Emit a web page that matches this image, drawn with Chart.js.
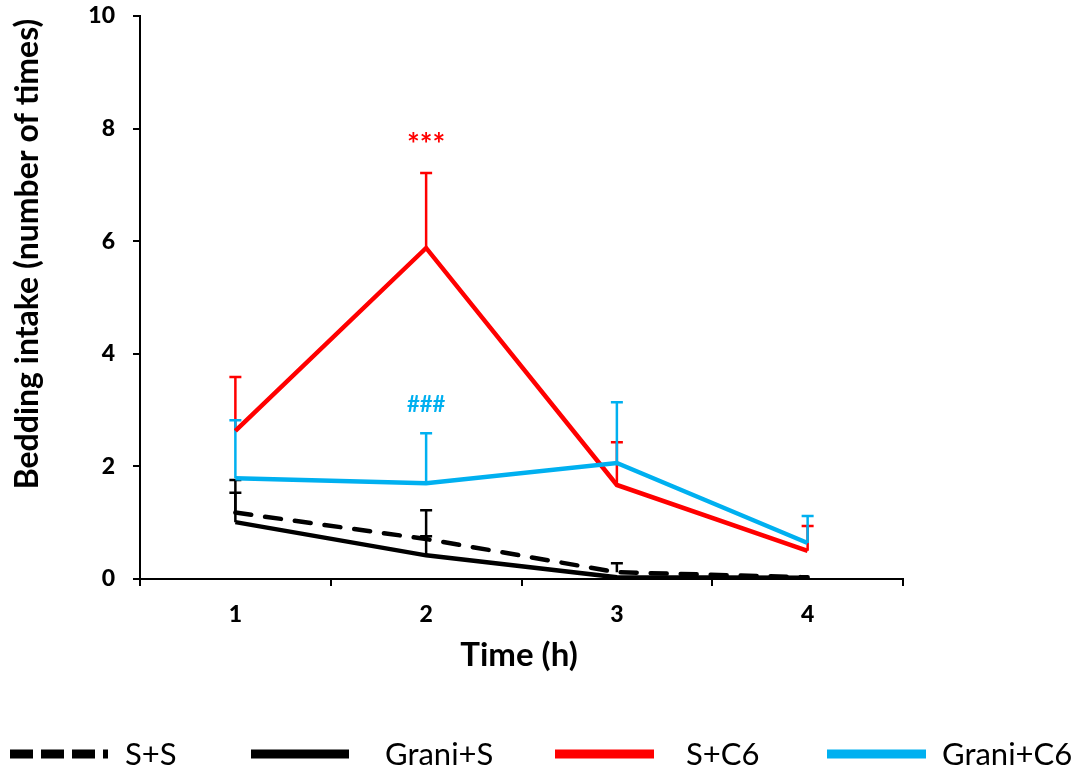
<!DOCTYPE html>
<html>
<head>
<meta charset="utf-8">
<script src="https://cdn.jsdelivr.net/npm/chart.js@4/dist/chart.umd.min.js"></script>
<style>
html,body{margin:0;padding:0;background:#fff;}
#wrap{width:1078px;height:782px;position:relative;}
</style>
</head>
<body>
<div id="wrap"><canvas id="c" width="1078" height="782"></canvas></div>
<script>
const timeLabels = ['1', '2', '3', '4'];
const seriesNames = ['S+S', 'Grani+S', 'S+C6', 'Grani+C6'];
const ssMean = [1.18, 0.71, 0.12, 0.03];
const ssErr = [0.58, 0.05, 0.16, 0];
const graniSMean = [1.01, 0.42, 0.03, 0.02];
const graniSErr = [0.52, 0.80, 0, 0];
const sC6Mean = [2.63, 5.88, 1.67, 0.50];
const sC6Err = [0.96, 1.33, 0.76, 0.44];
const graniC6Mean = [1.79, 1.70, 2.06, 0.64];
const graniC6Err = [1.03, 0.89, 1.08, 0.48];
const yTicks = [0, 2, 4, 6, 8, 10];
const annotations = [
  { text: '***', x: '2', y: 7.7, color: '#FF0000', size: 30 },
  { text: '###', x: '2', y: 3.09, color: '#00B0F0', size: 22 }
];

const FONT = 'Lato, "Liberation Sans", sans-serif';

const errorBarPlugin = {
  id: 'errorBars',
  beforeDatasetsDraw(chart) {
    const ctx = chart.ctx;
    const xs = chart.scales.x, ys = chart.scales.y;
    const drawOrder = [1, 0, 2, 3];
    drawOrder.forEach(di => {
      const ds = chart.data.datasets[di];
      ctx.save();
      ctx.strokeStyle = ds.borderColor;
      ctx.lineWidth = 2.5;
      ds.data.forEach((v, i) => {
        const e = ds.errors[i];
        if (!e) return;
        const px = xs.getPixelForValue(i);
        const p0 = ys.getPixelForValue(v);
        const p1 = ys.getPixelForValue(v + e);
        ctx.beginPath();
        ctx.moveTo(px, p0);
        ctx.lineTo(px, p1);
        ctx.moveTo(px - 6, p1);
        ctx.lineTo(px + 6, p1);
        ctx.stroke();
      });
      ctx.restore();
    });
  },
  afterDraw(chart) {
    const ctx = chart.ctx;
    const xs = chart.scales.x, ys = chart.scales.y;
    ctx.save();
    annotations.forEach(a => {
      ctx.fillStyle = a.color;
      ctx.font = 'bold ' + a.size + 'px ' + FONT;
      ctx.textAlign = 'center';
      ctx.textBaseline = 'middle';
      ctx.fillText(a.text, xs.getPixelForValue(timeLabels.indexOf(a.x)), ys.getPixelForValue(a.y));
    });
    ctx.fillStyle = '#000';
    ctx.font = 'bold 33px ' + FONT;
    ctx.textAlign = 'center';
    ctx.textBaseline = 'middle';
    ctx.fillText('Time (h)', 519, 655);
    ctx.save();
    ctx.translate(28, 254);
    ctx.rotate(-Math.PI / 2);
    ctx.font = 'bold 32px ' + FONT;
    ctx.fillText('Bedding intake (number of times)', 0, 0);
    ctx.restore();
    const legendY = 754;
    const items = [
      { x0: 10, x1: 108, tx: 125, dash: [23, 8] },
      { x0: 251, x1: 349, tx: 385, dash: [] },
      { x0: 555, x1: 654, tx: 686, dash: [] },
      { x0: 827, x1: 926, tx: 942, dash: [] }
    ];
    items.forEach((it, i) => {
      const ds = chart.data.datasets[i];
      ctx.strokeStyle = ds.borderColor;
      ctx.lineWidth = 9;
      ctx.lineCap = 'butt';
      ctx.setLineDash(it.dash);
      ctx.beginPath();
      ctx.moveTo(it.x0, legendY);
      ctx.lineTo(it.x1, legendY);
      ctx.stroke();
      ctx.setLineDash([]);
      ctx.fillStyle = '#000';
      ctx.font = '31px ' + FONT;
      ctx.textAlign = 'left';
      ctx.textBaseline = 'middle';
      ctx.fillText(ds.label, it.tx, legendY + 1);
    });
    ctx.restore();
  }
};

new Chart(document.getElementById('c'), {
  type: 'line',
  data: {
    labels: timeLabels,
    datasets: [
      { label: seriesNames[0], data: ssMean, errors: ssErr, borderColor: '#000000', borderWidth: 4.5, borderDash: [16, 14], borderCapStyle: 'round', pointRadius: 0, tension: 0, order: 3 },
      { label: seriesNames[1], data: graniSMean, errors: graniSErr, borderColor: '#000000', borderWidth: 4.5, pointRadius: 0, tension: 0, order: 2 },
      { label: seriesNames[2], data: sC6Mean, errors: sC6Err, borderColor: '#FF0000', borderWidth: 4.5, pointRadius: 0, tension: 0, order: 1 },
      { label: seriesNames[3], data: graniC6Mean, errors: graniC6Err, borderColor: '#00B0F0', borderWidth: 4.5, pointRadius: 0, tension: 0, order: 0 }
    ]
  },
  options: {
    responsive: false,
    animation: false,
    layout: { padding: { left: 0, top: 16, right: 175, bottom: 0 } },
    plugins: { legend: { display: false }, tooltip: { enabled: false } },
    scales: {
      x: {
        type: 'category',
        offset: true,
        grid: { offset: true, drawOnChartArea: false, drawTicks: true, tickLength: 7, color: '#000', lineWidth: 2 },
        border: { color: '#000', width: 2 },
        ticks: { color: '#000', font: { family: FONT, size: 23, weight: '900' }, padding: 15, maxRotation: 0 },
        afterFit(s) { s.height = 203; s.paddingLeft = 0; s.paddingRight = 0; }
      },
      y: {
        min: 0, max: 10,
        afterBuildTicks(s) { s.ticks = yTicks.map(v => ({ value: v })); },
        grid: { drawOnChartArea: false, drawTicks: true, tickLength: 7, color: '#000', lineWidth: 2 },
        border: { color: '#000', width: 2 },
        ticks: { color: '#000', font: { family: FONT, size: 23, weight: '900' }, padding: 18 },
        afterFit(s) { s.width = 140; s.paddingTop = 0; s.paddingBottom = 0; }
      }
    }
  },
  plugins: [errorBarPlugin]
});
</script>
</body>
</html>
